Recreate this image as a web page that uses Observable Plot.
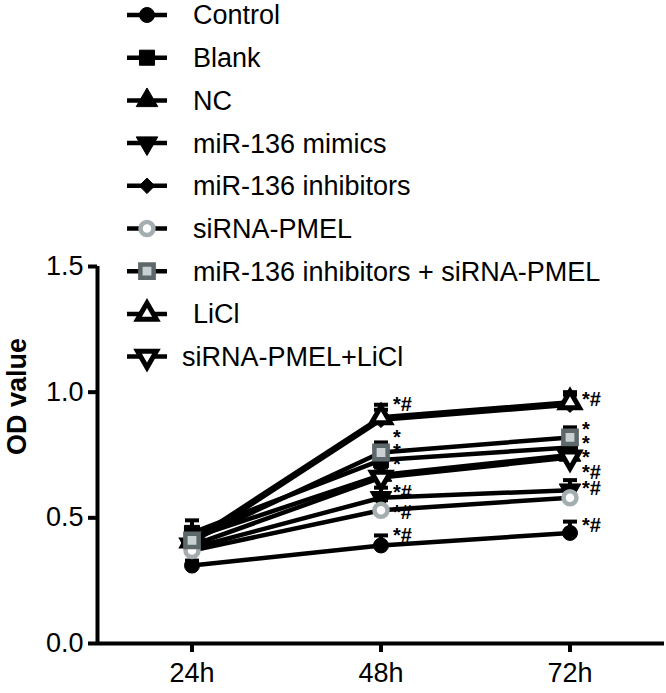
<!DOCTYPE html>
<html><head><meta charset="utf-8">
<script src="https://cdn.jsdelivr.net/npm/d3@7"></script>
<script src="https://cdn.jsdelivr.net/npm/@observablehq/plot@0.6"></script>
<style>
body{margin:0;background:#fff;}
#wrap{position:relative;width:666px;height:693px;font-family:"Liberation Sans",Arial,Helvetica,sans-serif;}
#legend{position:absolute;left:0;top:0;}
</style></head><body><div id="wrap"></div>
<script>
// ---- data ----
const times = ["24h", "48h", "72h"];
const groups = ["Control", "Blank", "NC", "miR-136 mimics", "miR-136 inhibitors", "siRNA-PMEL",
  "miR-136 inhibitors + siRNA-PMEL", "LiCl", "siRNA-PMEL+LiCl"];
const control      = [0.31, 0.39, 0.44];
const blank        = [0.44, 0.73, 0.78];
const nc           = [0.42, 0.67, 0.75];
const mimics       = [0.38, 0.58, 0.61];
const inhibitors   = [0.40, 0.89, 0.95];
const siPMEL       = [0.37, 0.53, 0.58];
const inhSiPMEL    = [0.41, 0.76, 0.82];
const licl         = [0.41, 0.90, 0.96];
const siPMELLicl   = [0.39, 0.66, 0.74];
const controlSD    = [0.02, 0.04, 0.045];
const blankSD      = [0.05, 0.04, 0.04];
const ncSD         = [0.03, 0.04, 0.04];
const mimicsSD     = [0.03, 0.04, 0.04];
const inhibitorsSD = [0.03, 0.04, 0.04];
const siPMELSD     = [0.03, 0.04, 0.04];
const inhSiPMELSD  = [0.03, 0.04, 0.04];
const liclSD       = [0.03, 0.05, 0.04];
const siPMELLiclSD = [0.03, 0.04, 0.04];
const yTicks = [0, 0.5, 1.0, 1.5];
const ann48Text   = ["*#", "*", "*", "*", "*#", "*#", "*#"];
const ann48Values = [0.95, 0.82, 0.765, 0.71, 0.60, 0.52, 0.43];
const ann72Text   = ["*#", "*", "*", "*", "*#", "*#", "*#"];
const ann72Values = [0.97, 0.85, 0.795, 0.74, 0.68, 0.615, 0.47];

// ---- build tables ----
const seriesValues = [control, blank, nc, mimics, inhibitors, siPMEL, inhSiPMEL, licl, siPMELLicl];
const seriesSD = [controlSD, blankSD, ncSD, mimicsSD, inhibitorsSD, siPMELSD, inhSiPMELSD, liclSD, siPMELLiclSD];
const rows = groups.flatMap((g, gi) => times.map((t, ti) => ({group: g, gi, t: ti, v: seriesValues[gi][ti], sd: seriesSD[gi][ti]})));
const anns = [
  ...ann48Text.map((s, i) => ({t: 1, v: ann48Values[i], s})),
  ...ann72Text.map((s, i) => ({t: 2, v: ann72Values[i], s}))
];

// ---- styles ----
const sqrt3 = Math.sqrt(3);
const triangleDown = {draw(c, size) {
  const y = -Math.sqrt(size / (sqrt3 * 3));
  c.moveTo(0, -y * 2); c.lineTo(-sqrt3 * y, y); c.lineTo(sqrt3 * y, y); c.closePath();
}};
const capSymbol = {draw(c, size) { const w = Math.sqrt(size) / 2; c.moveTo(-w, 0); c.lineTo(w, 0); }};
const styles = [
  {symbol: "circle", fill: "black", stroke: "black", sw: 1, r: 7.5},
  {symbol: "square", fill: "black", stroke: "black", sw: 1, r: 8.5},
  {symbol: "triangle", fill: "black", stroke: "black", sw: 1, r: 8},
  {symbol: triangleDown, fill: "black", stroke: "black", sw: 1, r: 8},
  {symbol: "diamond2", fill: "black", stroke: "black", sw: 1, r: 7},
  {symbol: "circle", fill: "white", stroke: "#a4aeb1", sw: 4.5, r: 6.5},
  {symbol: "square", fill: "#c9d0d1", stroke: "#5d686a", sw: 4.5, r: 7.5},
  {symbol: "triangle", fill: "white", stroke: "black", sw: 5, r: 7},
  {symbol: triangleDown, fill: "white", stroke: "black", sw: 5, r: 7}
];
// drawing order: grey series on top, as in the reference
const drawOrder = [0, 1, 2, 3, 4, 7, 8, 5, 6];

const W = 666, H = 693;
const font = "Liberation Sans, Arial, Helvetica, sans-serif";

const marks = [];
drawOrder.forEach(gi => {
  marks.push(Plot.line(rows.filter(d => d.gi === gi), {x: "t", y: "v", stroke: "black", strokeWidth: 4.5}));
});
drawOrder.forEach(gi => {
  const data = rows.filter(d => d.gi === gi);
  const st = styles[gi];
  marks.push(Plot.ruleX(data, {x: "t", y1: "v", y2: d => d.v + d.sd, stroke: "black", strokeWidth: 4}));
  marks.push(Plot.dot(data, {x: "t", y: d => d.v + d.sd, symbol: capSymbol, r: 7.9, fill: "none", stroke: "black", strokeWidth: 4}));
  marks.push(Plot.dot(data, {x: "t", y: "v", symbol: st.symbol, r: st.r, fill: st.fill, stroke: st.stroke, strokeWidth: st.sw}));
});
marks.push(Plot.text(anns, {x: "t", y: "v", text: "s", textAnchor: "start", dx: 12, fontSize: 20, fontWeight: "bold", fill: "black"}));
marks.push(Plot.ruleY([0], {stroke: "black", strokeWidth: 4}));
marks.push(Plot.ruleX([-0.5], {y1: 0, y2: 1.5, stroke: "black", strokeWidth: 4}));
marks.push(Plot.axisX({ticks: [0, 1, 2], tickFormat: i => times[i], tickSize: 9, tickPadding: 10, strokeWidth: 4, label: null, fontSize: 27}));
marks.push(Plot.axisY({ticks: yTicks, tickFormat: d3.format(".1f"), tickSize: 9, tickPadding: 5, strokeWidth: 4, label: null, fontSize: 27}));
marks.push(Plot.text(["OD value"], {frameAnchor: "left", rotate: -90, dx: -80, fontSize: 27, fontWeight: "bold", fill: "black"}));

const chart = Plot.plot({
  width: W, height: H,
  marginLeft: 97, marginRight: 2, marginTop: 266, marginBottom: 50,
  x: {type: "linear", domain: [-0.5, 2.5]},
  y: {domain: [0, 1.5]},
  style: {fontFamily: font, fontSize: "27px", color: "black", background: "white"},
  marks
});
const wrap = document.getElementById("wrap");
wrap.appendChild(chart);

// ---- legend overlay ----
const leg = d3.select(wrap).append("svg").attr("id", "legend").attr("width", W).attr("height", 380)
  .style("font-family", font);
groups.forEach((g, gi) => {
  const y = 15 + gi * 42.7;
  const st = styles[gi];
  const row = leg.append("g").attr("transform", `translate(0,${y})`);
  row.append("line").attr("x1", 127).attr("x2", 167).attr("y1", 0).attr("y2", 0).attr("stroke", "black").attr("stroke-width", 4.5);
  const type = typeof st.symbol === "string"
    ? {circle: d3.symbolCircle, square: d3.symbolSquare, triangle: d3.symbolTriangle, diamond2: d3.symbolDiamond2}[st.symbol]
    : st.symbol;
  row.append("path").attr("transform", "translate(147,0)")
    .attr("d", d3.symbol(type, st.r * st.r * Math.PI)())
    .attr("fill", st.fill).attr("stroke", st.stroke).attr("stroke-width", st.sw);
  row.append("text").attr("x", gi === 8 ? 182 : 193).attr("y", 0).attr("dy", "0.35em")
    .attr("font-size", 27).attr("fill", "black").text(g);
});
</script></body></html>
